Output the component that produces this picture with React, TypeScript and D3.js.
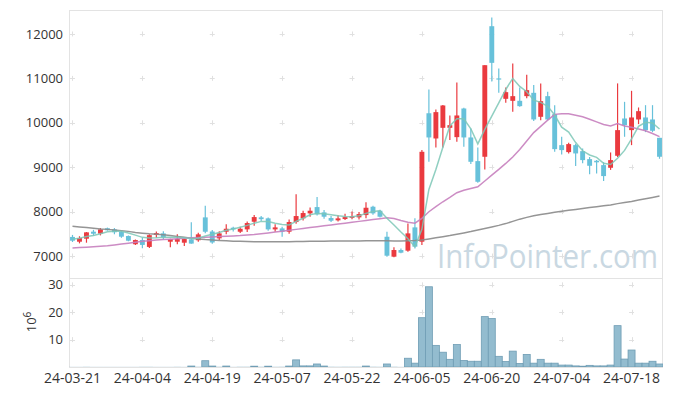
import React from "react";
import * as d3 from "d3";

const dates = [
  "24-03-21","24-03-22","24-03-25","24-03-26","24-03-27","24-03-28","24-03-29","24-04-01","24-04-02","24-04-03",
  "24-04-04","24-04-05","24-04-08","24-04-09","24-04-11","24-04-12","24-04-15","24-04-16","24-04-17","24-04-18",
  "24-04-19","24-04-22","24-04-23","24-04-24","24-04-25","24-04-26","24-04-29","24-04-30","24-05-02","24-05-03",
  "24-05-07","24-05-08","24-05-09","24-05-10","24-05-13","24-05-14","24-05-16","24-05-17","24-05-20","24-05-21",
  "24-05-22","24-05-23","24-05-24","24-05-27","24-05-28","24-05-29","24-05-30","24-05-31","24-06-03","24-06-04",
  "24-06-05","24-06-07","24-06-10","24-06-11","24-06-12","24-06-13","24-06-14","24-06-17","24-06-18","24-06-19",
  "24-06-20","24-06-21","24-06-24","24-06-25","24-06-26","24-06-27","24-06-28","24-07-01","24-07-02","24-07-03",
  "24-07-04","24-07-05","24-07-08","24-07-09","24-07-10","24-07-11","24-07-12","24-07-15","24-07-16","24-07-17",
  "24-07-18","24-07-19","24-07-22","24-07-23","24-07-24",
];

const open = [
  7430,7322,7390,7548,7505,7625,7600,7540,7450,7265,
  7360,7205,7475,7510,7322,7322,7300,7375,7355,7870,
  7552,7398,7547,7637,7547,7600,7772,7870,7848,7600,
  7622,7547,7765,7848,7960,8102,7983,7855,7803,7833,
  7860,7870,7922,8110,8020,7434,6985,7135,7120,7645,
  7322,10215,9647,9887,9887,9677,10322,9670,9137,9235,
  12175,11000,10540,10495,10495,10600,10675,10135,10600,10195,
  9497,9340,9497,9362,9182,9145,9047,8987,9257,10097,
  9835,10075,10120,10075,9662,
];
const high = [
  7475,7445,7540,7590,7630,7640,7630,7560,7460,7370,
  7410,7490,7550,7560,7390,7488,7390,7760,7525,8130,
  7585,7560,7713,7660,7660,7780,7922,7900,7870,7713,
  7660,7825,8390,8020,8095,8328,8035,7900,7920,7950,
  8000,7990,8208,8130,8040,7547,7196,7170,7735,7848,
  9385,10750,10300,10400,10165,10907,10340,9872,9445,11297,
  12370,11222,10795,11335,10795,11080,10850,10887,10700,10397,
  9685,9550,9530,9420,9230,9160,9110,9332,10887,10472,
  10720,10345,10397,10397,9662,
];
const low = [
  7315,7285,7300,7460,7465,7570,7490,7410,7330,7250,
  7175,7180,7410,7370,7200,7265,7225,7277,7320,7510,
  7277,7360,7490,7550,7520,7540,7682,7790,7570,7547,
  7434,7502,7727,7800,7885,7915,7840,7765,7780,7810,
  7830,7820,7848,7930,7870,6985,6970,7060,7097,7172,
  7247,9122,9445,9445,9610,9572,9460,9070,8650,8950,
  10930,10675,10450,10247,10360,10550,10040,10060,10050,9347,
  9287,9310,9025,9090,8840,8860,8690,8940,9230,9685,
  9497,9970,9790,9790,9190,
];
const close = [
  7345,7405,7533,7502,7600,7580,7535,7435,7345,7360,
  7250,7470,7515,7420,7382,7382,7382,7280,7488,7547,
  7305,7510,7614,7600,7614,7742,7877,7830,7600,7645,
  7547,7765,7900,7968,8020,7938,7885,7795,7848,7877,
  7900,7945,8087,7960,7885,7007,7135,7075,7510,7210,
  9347,9670,10240,10390,9947,10165,9670,9122,8672,11297,
  11350,10975,10690,10600,10375,10735,10075,10487,10075,9407,
  9385,9520,9310,9160,9032,9110,8800,9160,9835,9947,
  10120,10262,9835,9820,9235,
];

const volume = [
  0.05,0.05,0.08,0.05,0.05,0.05,0.05,0.05,0.05,0.05,
  0.08,0.08,0.05,0.05,0.05,0.08,0.05,0.35,0.1,2.3,
  0.35,0.1,0.35,0.05,0.1,0.1,0.3,0.1,0.3,0.08,
  0.1,0.35,2.6,0.4,0.4,1.1,0.35,0.1,0.08,0.1,
  0.1,0.1,0.35,0.1,0.08,1.1,0.1,0.05,3.2,1.4,
  18.0,29.3,7.9,5.4,2.8,8.2,2.4,2.1,2.1,18.4,
  17.7,3.9,2.0,5.8,1.3,4.6,1.4,2.8,1.4,1.4,
  0.7,0.7,0.4,0.3,0.6,0.4,0.4,0.7,15.1,2.9,
  6.2,1.4,1.4,2.1,1.1,
];

const ma5 = [
  7375,7400,7440,7460,7500,7545,7560,7560,7520,7470,
  7420,7405,7410,7420,7420,7420,7410,7395,7400,7450,
  7490,7530,7580,7610,7650,7690,7740,7780,7775,7740,
  7712,7700,7780,7850,7930,7960,7950,7930,7905,7890,
  7885,7905,7960,8000,8020,7850,7700,7540,7390,7210,
  7600,8500,8950,9450,9930,10090,10090,9865,9525,9850,
  10150,10450,10750,11000,10820,10700,10510,10460,10370,10175,
  9900,9790,9555,9370,9275,9222,9090,9060,9200,9378,
  9640,9920,10010,9998,9860,
];

const ma20 = [
  7180,7190,7200,7210,7220,7230,7250,7270,7290,7310,
  7330,7345,7360,7370,7380,7390,7400,7410,7415,7420,
  7430,7437,7445,7452,7460,7472,7485,7502,7520,7540,
  7560,7580,7600,7620,7640,7660,7680,7700,7720,7740,
  7760,7780,7800,7820,7840,7862,7845,7800,7760,7740,
  7848,7997,8110,8222,8320,8425,8480,8522,8560,8690,
  8822,8950,9085,9230,9400,9590,9780,9920,10060,10190,
  10205,10205,10170,10135,10080,10020,9960,9930,9985,9930,
  9900,9860,9820,9760,9690,
];

const ma60 = [
  7670,7655,7640,7625,7610,7600,7585,7570,7555,7530,
  7515,7500,7490,7480,7460,7440,7420,7400,7385,7370,
  7360,7350,7342,7335,7330,7326,7322,7320,7320,7320,
  7320,7322,7325,7328,7330,7332,7335,7337,7338,7340,
  7340,7340,7342,7344,7345,7342,7340,7340,7345,7350,
  7360,7385,7410,7435,7460,7490,7520,7550,7585,7620,
  7655,7690,7730,7780,7830,7870,7905,7935,7960,7985,
  8010,8030,8050,8070,8090,8110,8130,8150,8180,8205,
  8230,8260,8290,8320,8350,
];

const priceTicks = [7000, 8000, 9000, 10000, 11000, 12000];
const priceTickLabels = ["7000", "8000", "9000", "10000", "11000", "12000"];
const volumeTicks = [10, 20, 30];
const xTickLabels = ["24-03-21","24-04-04","24-04-19","24-05-07","24-05-22","24-06-05","24-06-20","24-07-04","24-07-18"];

const W = 673, H = 396;
const L = 69, R = 663, T = 10, MID = 278, B = 367;
const UP = "#ea3a3f", DOWN = "#67c1da";
const FONT = "'Open Sans', 'Noto Sans', sans-serif";

export default function App() {
  const x = d3.scaleBand<string>().domain(dates).range([L, R]).paddingInner(0).paddingOuter(0);
  const bw = x.bandwidth();
  const cx = (d: string) => (x(d) as number) + bw / 2;
  const y = d3.scaleLinear().domain([6505, 12540]).range([MID, T]);
  const yv = d3.scaleLinear().domain([0, 32.5]).range([B, MID]);

  const mkLine = (vals: number[]) =>
    d3.line<number>().x((_, i) => cx(dates[i])).y((v) => y(v))(vals) || "";

  const crossYs = [...priceTicks.map((p) => y(p)), ...volumeTicks.map((v) => yv(v))];
  const crossXs = xTickLabels.map((d) => cx(d));
  const bodyW = bw * 0.7;

  return (
    <svg width={W} height={H} style={{ position: "absolute", left: 0, top: 0, background: "#fff" }} fontFamily={FONT}>
      <defs>
        <clipPath id="cp-price"><rect x={L} y={T} width={R - L} height={MID - T} /></clipPath>
        <clipPath id="cp-vol"><rect x={L} y={MID} width={R - L} height={B - MID} /></clipPath>
      </defs>
      <rect x={0} y={0} width={W} height={H} fill="#fff" />
      {/* frame */}
      <g stroke="#e3e3e3" strokeWidth={1} fill="none">
        <rect x={L + 0.5} y={T + 0.5} width={R - L - 1} height={B - T} />
        <line x1={L} x2={R} y1={MID + 0.5} y2={MID + 0.5} />
      </g>
      {/* watermark */}
      <text transform="translate(437,268) scale(1,1.12)" fontSize={29.5} fill="#c9d8e2" fontFamily={FONT}>InfoPointer.com</text>
      {/* grid crosses */}
      <g stroke="#e0e0e0" strokeWidth={1}>
        {crossXs.map((gx, i) =>
          crossYs.map((gy, j) => (
            <g key={`c${i}-${j}`}>
              <line x1={gx - 2.5} x2={gx + 2.5} y1={Math.round(gy) + 0.5} y2={Math.round(gy) + 0.5} />
              <line x1={Math.round(gx) + 0.5} x2={Math.round(gx) + 0.5} y1={gy - 2.5} y2={gy + 2.5} />
            </g>
          ))
        )}
      </g>
      {/* volume */}
      <g clipPath="url(#cp-vol)">
        {dates.map((d, i) => (
          <rect key={d} x={x(d) as number} y={yv(volume[i])} width={bw} height={B - yv(volume[i])}
            fill="#93bccf" stroke={volume[i] >= 0.2 ? "#6f9db4" : "none"} strokeWidth={0.8} />
        ))}
      </g>
      {/* candles */}
      <g clipPath="url(#cp-price)">
        {dates.map((d, i) => {
          const up = close[i] >= open[i];
          const col = up ? UP : DOWN;
          const top = y(Math.max(open[i], close[i]));
          const bot = y(Math.min(open[i], close[i]));
          const c = cx(d);
          return (
            <g key={d}>
              <line x1={c} x2={c} y1={y(high[i])} y2={y(low[i])} stroke={col} strokeWidth={1.2} />
              <rect x={c - bodyW / 2} y={top} width={bodyW} height={Math.max(1.2, bot - top)} fill={col} />
            </g>
          );
        })}
        <path d={mkLine(ma60)} fill="none" stroke="#8a8a8a" strokeWidth={1.5} opacity={0.9} />
        <path d={mkLine(ma20)} fill="none" stroke="#c77fbe" strokeWidth={1.5} opacity={0.9} />
        <path d={mkLine(ma5)} fill="none" stroke="#7cc7b6" strokeWidth={1.5} opacity={0.85} />
      </g>
      {/* y labels */}
      <g fontSize={13} fill="#333" textAnchor="end">
        {priceTicks.map((p, i) => (
          <text key={p} x={63} y={y(p)} dy="0.35em">{priceTickLabels[i]}</text>
        ))}
        {volumeTicks.map((v) => (
          <text key={v} x={63} y={yv(v)} dy="0.35em">{v}</text>
        ))}
      </g>
      <text transform={`translate(36,322) rotate(-90)`} fontSize={13} fill="#333" textAnchor="middle">
        10<tspan dy={-5} fontSize={10}>6</tspan>
      </text>
      {/* x labels */}
      <g fontSize={14} fill="#333" textAnchor="middle">
        {xTickLabels.map((d) => (
          <text key={d} x={cx(d)} y={383}>{d}</text>
        ))}
      </g>
    </svg>
  );
}
